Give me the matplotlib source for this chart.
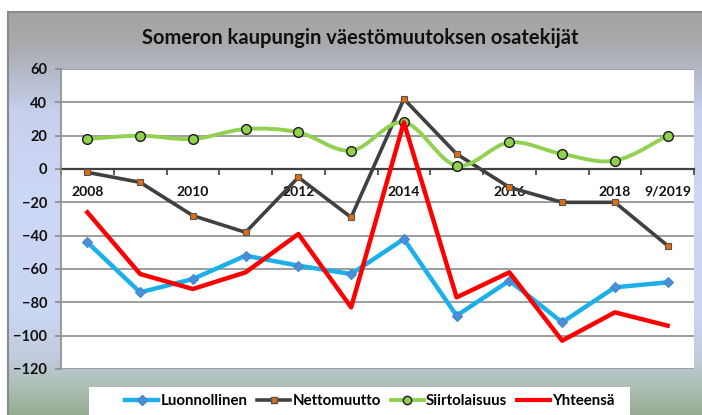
import numpy as np
import matplotlib
matplotlib.use("Agg")
import matplotlib.pyplot as plt
from matplotlib.path import Path
from matplotlib.patches import PathPatch, Rectangle
from matplotlib.lines import Line2D
from matplotlib.colors import LinearSegmentedColormap

# ---- data ----
categories = ["2008", "2009", "2010", "2011", "2012", "2013", "2014",
              "2015", "2016", "2017", "2018", "9/2019"]
tick_labels = ["2008", "", "2010", "", "2012", "", "2014", "", "2016", "", "2018", "9/2019"]
luonnollinen = [-44, -74, -66, -52, -58, -63, -42, -88, -67, -92, -71, -68]
nettomuutto = [-2, -8, -28, -38, -5, -29, 42, 9, -11, -20, -20, -46]
siirtolaisuus = [18, 20, 18, 24, 22, 11, 28, 2, 16, 9, 5, 20]
yhteensa = [-26, -63, -72, -62, -39, -83, 28, -77, -62, -103, -86, -94]
title = "Someron kaupungin väestömuutoksen osatekijät"

FONT = ["Lato", "DejaVu Sans"]
plt.rcParams["font.family"] = FONT

W, H = 702, 415
fig = plt.figure(figsize=(W / 100, H / 100), dpi=100)
fig.patch.set_facecolor("white")

# ---- gradient background frame ----
bg = fig.add_axes([8 / W, 0, 1 - 8 / W, (H - 12) / H])
bg.set_axis_off()
stops = [(0.0, "#a4a4a4"), (0.08, "#a9aaad"), (0.16, "#b6bccc"), (0.25, "#c7d0ec"),
         (0.45, "#cdd7f6"), (0.75, "#cbd6f3"), (0.86, "#c0cbdc"), (0.93, "#aebfb6"),
         (1.0, "#97ab93")]
cmap = LinearSegmentedColormap.from_list("bg", stops)
grad = np.linspace(0, 1, 256).reshape(-1, 1)
bg.imshow(grad, aspect="auto", cmap=cmap, extent=[0, 1, 0, 1], origin="upper")
bg.set_xlim(0, 1)
bg.set_ylim(0, 1)
bg.plot([0, 1], [1, 1], color="#8a8a8a", lw=1.5, transform=bg.transAxes, clip_on=False)
bg.plot([0, 0], [0, 1], color="#8a8a8a", lw=1.5, transform=bg.transAxes, clip_on=False)

# ---- title ----
fig.text(360 / W, 1 - 38 / H, title, ha="center", va="center",
         fontsize=14.5, fontweight="bold", color="#111111")

# ---- main axes ----
x0, x1, ytop, ybot = 61, 694, 69, 369
ax = fig.add_axes([x0 / W, 1 - ybot / H, (x1 - x0) / W, (ybot - ytop) / H])
ax.set_facecolor("white")
xs = np.arange(len(categories))
ax.set_xlim(-0.5, len(categories) - 0.5)
ax.set_ylim(-120, 60)
ax.set_yticks(np.arange(-120, 61, 20))
ax.yaxis.grid(True, color="#8c8c8c", lw=1.2)
ax.set_axisbelow(True)
for s in ["top", "right"]:
    ax.spines[s].set_visible(False)
ax.spines["left"].set_color("#8c8c8c")
ax.spines["left"].set_linewidth(1.2)
ax.spines["bottom"].set_position(("data", 0))
ax.spines["bottom"].set_color("#404040")
ax.spines["bottom"].set_linewidth(1.6)
ax.spines["bottom"].set_zorder(1.5)

ax.set_xticks(xs)
ax.set_xticklabels(tick_labels)
ax.set_xticks(np.arange(-0.5, len(categories), 1.0), minor=True)
ax.tick_params(axis="x", which="major", length=0, pad=12, labelsize=10, colors="#111111")
ax.tick_params(axis="x", which="minor", length=4, width=1.2, color="#404040", direction="out")
for lab in ax.get_xticklabels():
    lab.set_fontweight("bold")
ax.tick_params(axis="y", length=4, width=1.2, color="#8c8c8c", pad=6, labelsize=10.5,
               labelcolor="#111111")
for lab in ax.get_yticklabels():
    lab.set_fontweight("bold")

# ---- series ----
ax.plot(xs, luonnollinen, color="#1cb0ea", lw=3.2, marker="D", ms=5.5,
        mfc="#4a8fd8", mec="#3f86d0", mew=0.8, zorder=3, label="Luonnollinen")
ax.plot(xs, nettomuutto, color="#404040", lw=2.6, marker="s", ms=5,
        mfc="#e46c0a", mec="#555555", mew=0.8, zorder=4, label="Nettomuutto")

# smooth (Excel-like) curve for Siirtolaisuus using cubic Bezier segments
pts = np.column_stack([xs, siirtolaisuus]).astype(float)
verts = [tuple(pts[0])]
codes = [Path.MOVETO]
n = len(pts)
for i in range(n - 1):
    p0 = pts[i - 1] if i > 0 else pts[i]
    p1 = pts[i]
    p2 = pts[i + 1]
    p3 = pts[i + 2] if i + 2 < n else pts[i + 1]
    c1 = p1 + (p2 - p0) / 6.0
    c2 = p2 - (p3 - p1) / 6.0
    verts += [tuple(c1), tuple(c2), tuple(p2)]
    codes += [Path.CURVE4] * 3
ax.add_patch(PathPatch(Path(verts, codes), fill=False, edgecolor="#92d050", lw=2.8,
                       zorder=5, capstyle="round", joinstyle="round"))
ax.plot(xs, siirtolaisuus, ls="none", marker="o", ms=7, mfc="#92d050",
        mec="#1a1a1a", mew=1.0, zorder=5.5)

ax.plot(xs, yhteensa, color="#ff0000", lw=3.2, zorder=6, label="Yhteensä")

# ---- legend ----
fig.patches.append(Rectangle((89 / W, 0), (630 - 89) / W, (H - 387) / H,
                             transform=fig.transFigure, facecolor="white",
                             edgecolor="none", zorder=1))
handles = [
    Line2D([], [], color="#1cb0ea", lw=3.2, marker="D", ms=5.5, mfc="#4a8fd8", mec="#3f86d0"),
    Line2D([], [], color="#404040", lw=2.6, marker="s", ms=5, mfc="#e46c0a", mec="#555555"),
    Line2D([], [], color="#92d050", lw=2.8, marker="o", ms=6, mfc="#92d050", mec="#1a1a1a"),
    Line2D([], [], color="#ff0000", lw=3.0),
]
names = ["Luonnollinen", "Nettomuutto", "Siirtolaisuus", "Yhteensä"]
leg = fig.legend(handles, names, loc="center", bbox_to_anchor=(370 / W, 1 - 401 / H),
                 ncol=4, frameon=False, prop={"family": FONT, "weight": "bold", "size": 10.8},
                 handlelength=2.2, handletextpad=0.15, columnspacing=0.65)
leg.set_zorder(5)

fig.savefig("out.png", dpi=100)
